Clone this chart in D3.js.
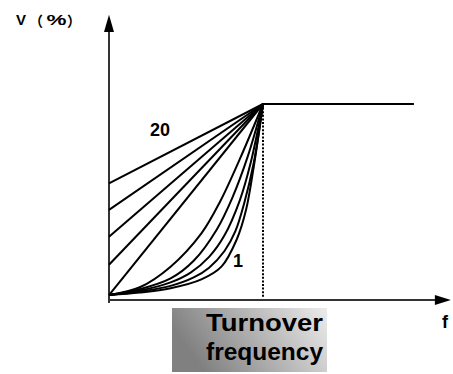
<!DOCTYPE html>
<html>
<head>
<meta charset="utf-8">
<script src="https://cdn.jsdelivr.net/npm/d3@7"></script>
<style>
  html, body { margin: 0; padding: 0; background: #fff; }
  svg { display: block; }
</style>
</head>
<body>
<svg id="chart" width="453" height="374"></svg>
<script>
// V/f characteristic: output voltage (%) against frequency, given as % of the turnover frequency.
const turnoverF = 100;
const ratedV = 100;
const flatEndF = 198;   // horizontal section continues past the turnover point
const axisEndF = 222;
const axisTopV = 146;

// Linear V/f lines with torque boost: starting voltage (%) at f = 0
const boostStarts = [59.5, 46, 32.3, 18, 2.5];

// Reduced-torque curves (last one is curve 1), sampled points
const curveF = [
  [0, 20, 40, 60, 72, 85, 100],
  [0, 20, 40, 55, 70, 80, 90, 100],
  [0, 20, 40, 53, 65, 75, 85, 92, 100],
  [0, 20, 40, 55, 65, 75, 82, 88, 94, 100],
  [0, 20, 40, 60, 73, 83, 89, 94, 100]
];
const curveV = [
  [2.5, 6.5, 17, 34, 50, 72, 100],
  [2.5, 5.5, 11, 20, 36, 52, 73, 100],
  [2.5, 4.8, 9, 14, 22, 33, 51, 70, 100],
  [2.5, 4.3, 7.2, 11.5, 16.5, 25, 35, 50, 70, 100],
  [2.5, 3.8, 6, 10.5, 17, 31, 46, 68, 100]
];

const curveLabels = ["20", "1"];
const axisLabelV = ["V", "（", "%", "）"];
const axisLabelF = "f";
const boxLines = ["Turnover", "frequency"];

const svg = d3.select("#chart");
const x = d3.scaleLinear().domain([0, turnoverF]).range([109, 263]);
const y = d3.scaleLinear().domain([0, ratedV]).range([300, 104]);

// gradient for the turnover-frequency box
const defs = svg.append("defs");
const grad = defs.append("linearGradient").attr("id", "boxGrad")
  .attr("x1", "0").attr("y1", "0.3").attr("x2", "1").attr("y2", "0");
grad.append("stop").attr("offset", "0").attr("stop-color", "#808080");
grad.append("stop").attr("offset", "1").attr("stop-color", "#ececec");

// axes
svg.append("line")
  .attr("x1", x(0)).attr("x2", x(0))
  .attr("y1", y(-1.5)).attr("y2", 30)
  .attr("stroke", "#000").attr("stroke-width", 1.6);
svg.append("path")
  .attr("d", `M${x(0)},${y(axisTopV) + 1} L${x(0) - 5},32 L${x(0) + 5},32 Z`)
  .attr("fill", "#000");
svg.append("line")
  .attr("x1", x(0)).attr("x2", x(axisEndF) - 15)
  .attr("y1", y(0)).attr("y2", y(0))
  .attr("stroke", "#333").attr("stroke-width", 2);
svg.append("path")
  .attr("d", `M${x(axisEndF)},${y(0)} L${x(axisEndF) - 16},${y(0) - 5} L${x(axisEndF) - 16},${y(0) + 5} Z`)
  .attr("fill", "#000");

// dotted marker at the turnover frequency
svg.append("line")
  .attr("x1", x(turnoverF)).attr("x2", x(turnoverF))
  .attr("y1", y(ratedV)).attr("y2", y(1.5))
  .attr("stroke", "#000").attr("stroke-width", 2)
  .attr("stroke-dasharray", "2,1.6");

// constant-voltage section above the turnover frequency
svg.append("line")
  .attr("x1", x(turnoverF)).attr("x2", x(flatEndF))
  .attr("y1", y(ratedV)).attr("y2", y(ratedV))
  .attr("stroke", "#000").attr("stroke-width", 2);

const lines = svg.append("g").attr("fill", "none").attr("stroke", "#000")
  .attr("stroke-width", 2).attr("stroke-linejoin", "round");

boostStarts.forEach(v0 => {
  lines.append("line")
    .attr("x1", x(0)).attr("y1", y(v0))
    .attr("x2", x(turnoverF)).attr("y2", y(ratedV));
});

const lineGen = d3.line()
  .x(d => x(d[0])).y(d => y(d[1]))
  .curve(d3.curveCatmullRom.alpha(0.5));
curveF.forEach((fs, i) => {
  const pts = fs.map((f, j) => [f, curveV[i][j]]);
  lines.append("path").attr("d", lineGen(pts));
});

// labels
const bold = "'Liberation Sans', Arial, sans-serif";
svg.append("text").attr("x", 150).attr("y", 136)
  .attr("font-family", bold).attr("font-weight", "bold").attr("font-size", 18)
  .text(curveLabels[0]);
svg.append("text").attr("x", 233).attr("y", 267)
  .attr("font-family", bold).attr("font-weight", "bold").attr("font-size", 18)
  .text(curveLabels[1]);
svg.append("text").attr("x", 442).attr("y", 328)
  .attr("font-family", bold).attr("font-weight", "bold").attr("font-size", 18)
  .text(axisLabelF);

const vl = svg.append("g").attr("font-weight", "bold");
vl.append("text").attr("x", 16).attr("y", 25)
  .attr("font-family", bold).attr("font-size", 15).text(axisLabelV[0]);
vl.append("text").attr("x", 29).attr("y", 26)
  .attr("font-family", "'Noto Sans CJK SC'").attr("font-size", 14).text(axisLabelV[1]);
vl.append("text").attr("x", 46.5).attr("y", 25)
  .attr("font-family", bold).attr("font-size", 14)
  .attr("textLength", 20).attr("lengthAdjust", "spacingAndGlyphs").text(axisLabelV[2]);
vl.append("text").attr("x", 67).attr("y", 26)
  .attr("font-family", "'Noto Sans CJK SC'").attr("font-size", 14).text(axisLabelV[3]);

// turnover-frequency box
svg.append("rect").attr("x", 172).attr("y", 308).attr("width", 155).attr("height", 64)
  .attr("fill", "url(#boxGrad)");
boxLines.forEach((t, i) => {
  svg.append("text")
    .attr("x", 323).attr("y", 331 + i * 29)
    .attr("text-anchor", "end")
    .attr("font-family", bold).attr("font-weight", "bold").attr("font-size", 24)
    .attr("textLength", 117).attr("lengthAdjust", "spacingAndGlyphs")
    .attr("fill", "#000")
    .text(t);
});
</script>
</body>
</html>
